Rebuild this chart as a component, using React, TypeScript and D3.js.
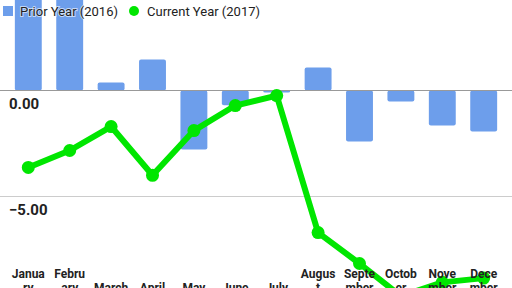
import React from "react";
import * as d3 from "d3";

const months = ["January","February","March","April","May","June","July","August","September","October","November","December"];
const monthLabelLines = [["Janua","ry"],["Febru","ary"],["March"],["April"],["May"],["June"],["July"],["Augus","t"],["Septe","mber"],["Octob","er"],["Nove","mber"],["Dece","mber"]];
const priorYear = [5.5, 5.0, 0.38, 1.46, -2.78, -0.7, -0.1, 1.08, -2.4, -0.52, -1.65, -1.93];
const currentYear = [-3.63, -2.83, -1.7, -4.0, -1.89, -0.71, -0.24, -6.7, -8.16, -9.7, -9.05, -8.85];
const yTicks = [0, -5];
const seriesNames = ["Prior Year (2016)", "Current Year (2017)"];

const W = 512, H = 288;
const BAR = "#6d9eeb";
const GREEN = "#00e600";

export default function App() {
  const x = d3.scaleBand<string>().domain(months).range([7.6, 504.4]).paddingInner(0.35).paddingOuter(0.175);
  const y = d3.scaleLinear().domain([-5, 0]).range([196.5, 90.5]);
  const cx = (m: string) => (x(m) as number) + x.bandwidth() / 2;
  const line = d3.line<number>().x((_, i) => cx(months[i])).y(d => y(d));
  const fmt = d3.format(".2f");
  return (
    <svg width={W} height={H} style={{ position: "fixed", left: 0, top: 0, background: "#fff" }} fontFamily="Roboto, Arial, sans-serif">
      <rect width={W} height={H} fill="#fff" />
      {yTicks.filter(t => t !== 0).map(t => (
        <line key={t} x1={0} x2={W} y1={y(t)} y2={y(t)} stroke="#cccccc" strokeWidth={1} />
      ))}
      {priorYear.map((v, i) => {
        const y0 = y(0), y1 = y(v);
        return <rect key={i} x={x(months[i])} width={x.bandwidth()} y={Math.min(y0, y1)} height={Math.abs(y1 - y0)} rx={2} fill={BAR} />;
      })}
      <line x1={0} x2={W} y1={y(0)} y2={y(0)} stroke="#999999" strokeWidth={1} />
      {yTicks.map(t => (
        <text key={t} x={9} y={y(t) + 18.5} fontSize={15} fontWeight={700} fill="#222">{fmt(t)}</text>
      ))}
      <path d={line(currentYear) || ""} fill="none" stroke={GREEN} strokeWidth={6} strokeLinejoin="round" strokeLinecap="round" />
      {currentYear.map((v, i) => (
        <circle key={i} cx={cx(months[i])} cy={y(v)} r={6.5} fill={GREEN} />
      ))}
      {monthLabelLines.map((lines, i) => (
        <text key={i} x={cx(months[i])} textAnchor="middle" fontSize={12} fontWeight={700} fill="#222">
          {lines.map((l, j) => (
            <tspan key={j} x={cx(months[i])} y={292 - (lines.length - 1 - j) * 14}>{l}</tspan>
          ))}
        </text>
      ))}
      <g>
        <rect x={3} y={6} width={10} height={10} fill={BAR} />
        <text x={20} y={15.5} fontSize={13} fill="#222" stroke="#fff" strokeWidth={2} strokeOpacity={0.6} paintOrder="stroke">{seriesNames[0]}</text>
        <circle cx={134} cy={11} r={5} fill={GREEN} />
        <text x={147} y={15.5} fontSize={13} fill="#222">{seriesNames[1]}</text>
      </g>
    </svg>
  );
}
